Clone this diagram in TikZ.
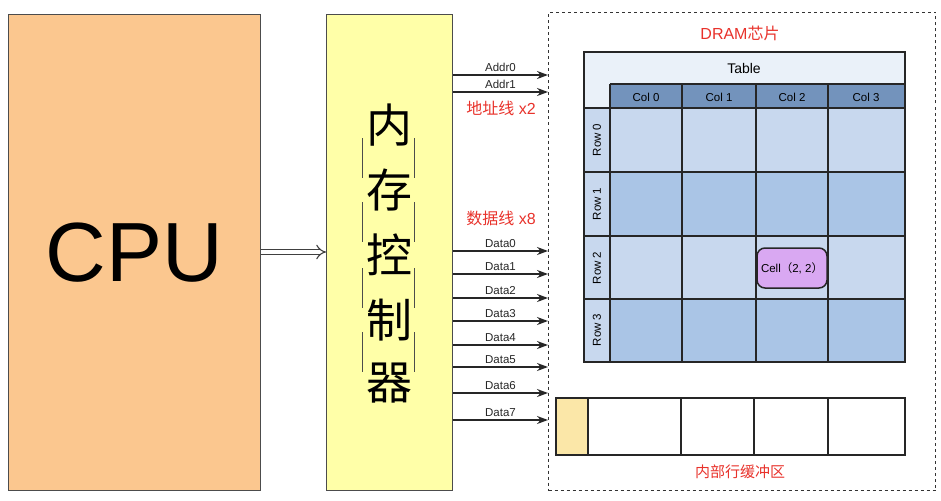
\documentclass[tikz,border=0pt]{standalone}
\usepackage{fontspec}
\setmainfont{Liberation Sans}
\newfontfamily\cjk{Noto Sans CJK SC}
\usetikzlibrary{arrows.meta}
\definecolor{cpuc}{HTML}{FBC78F}
\definecolor{ctlc}{HTML}{FFFFA8}
\definecolor{hdr}{HTML}{7393BC}
\definecolor{lt}{HTML}{C8D8EE}
\definecolor{dk}{HTML}{AAC5E6}
\definecolor{top}{HTML}{EAF1F9}
\definecolor{cellc}{HTML}{D9A8F2}
\definecolor{bufy}{HTML}{FBE7A8}
\definecolor{redt}{HTML}{E8322B}
\begin{document}
\begin{tikzpicture}[x=1pt,y=-1pt,
  sig/.style={-{Stealth[length=11pt,width=8pt]},line width=1.6pt,black!85},
  lab/.style={font=\fontsize{11.5}{11.5}\selectfont,inner sep=0pt},
  redl/.style={text=redt,font=\fontsize{16}{16}\selectfont},
  grid/.style={draw=black!85,line width=1.5pt}]
\useasboundingbox (0,0) rectangle (941,500);
\node[draw=black!70,line width=1pt,fill=cpuc,minimum width=252pt,minimum height=476pt,anchor=north west,font=\fontsize{84}{84}\selectfont] (cpu) at (8,14) {CPU};
\node[draw=black!70,line width=1pt,fill=ctlc,minimum width=126pt,minimum height=476pt,anchor=north west] (ctl) at (326,14) {};
\foreach \c/\y in {内/125,存/190,控/255,制/320,器/383}
  \node[font=\cjk\fontsize{46}{46}\selectfont] at (389,\y) {\c};
\foreach \y in {158,222,288,352} \draw[black!70,line width=1pt] (362,\y-20) -- (362,\y+20) (414,\y-20) -- (414,\y+20);
\draw[double=white,double distance=4pt,line width=1.1pt,black!75,-{Implies[length=11pt]}] (cpu.east |- 0,252) -- (ctl.west |- 0,252);
\node[draw=black!80,line width=1pt,dashed,minimum width=387pt,minimum height=478pt,anchor=north west] (dram) at (548,12) {};
\node[redl] (dt) at (740,33) {DRAM{\cjk 芯片}};
\foreach \n/\y in {0/75,1/92}{
  \coordinate (a\n) at (548,\y);
  \draw[sig] (ctl.east |- a\n) -- (a\n) node[lab,pos=0.5,above=3pt]{Addr\n};}
\node[redl] at (501,108) {{\cjk 地址线} x2};
\node[redl] at (501,218) {{\cjk 数据线} x8};
\foreach \n/\y in {0/251,1/274,2/298,3/321,4/345,5/367,6/393,7/420}{
  \coordinate (d\n) at (548,\y);
  \draw[sig] (ctl.east |- d\n) -- (d\n) node[lab,pos=0.5,above=3pt]{Data\n};}
\fill[top] (584,52) rectangle (905,108);
\fill[lt] (584,108) rectangle (610,362);
\fill[hdr] (610,84) rectangle (905,108);
\foreach \r/\c in {108/lt,172/dk,236/lt,299/dk}
  \fill[\c] (610,\r) rectangle (905,\r+64);
\node[font=\fontsize{14}{14}\selectfont] (tbl) at (744,68) {Table};
\draw[grid] (584,52) rectangle (905,362);
\draw[grid] (610,84) -- (905,84);
\foreach \x in {610,682,756,828} \draw[grid] (\x,84) -- (\x,362);
\foreach \y in {108,172,236,299} \draw[grid] (584,\y) -- (905,\y);
\foreach \t/\x in {Col 0/646,Col 1/719,Col 2/792,Col 3/866} \node[lab] at (\x,97) {\t};
\foreach \t/\y in {Row 0/140,Row 1/204,Row 2/268,Row 3/330} \node[lab,rotate=90] at (597,\y) {\t};
\node[draw=black!85,line width=1.5pt,fill=cellc,rounded corners=8pt,minimum width=70pt,minimum height=40pt,inner sep=1pt,font=\fontsize{11.5}{11.5}\selectfont] (cell) at (792,268) {Cell{\cjk（}2, 2{\cjk）}};
\fill[bufy] (556,398) rectangle (588,455);
\draw[grid] (556,398) rectangle (905,455);
\foreach \x in {588,681,754,828} \draw[grid] (\x,398) -- (\x,455);
\node[redl,font=\cjk\fontsize{15}{15}\selectfont] (buf) at (740,472) {内部行缓冲区};
\end{tikzpicture}
\end{document}
